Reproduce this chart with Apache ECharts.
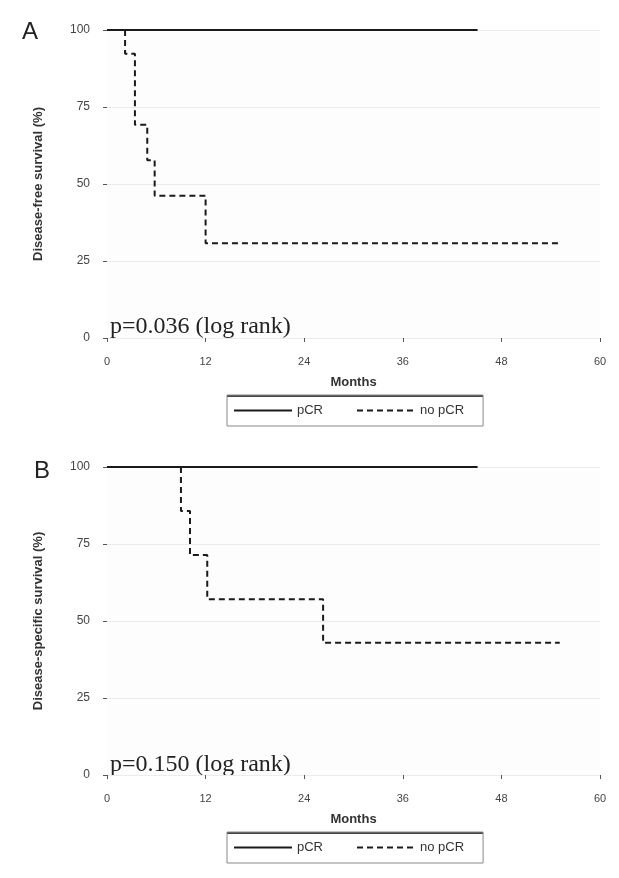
<!DOCTYPE html>
<html>
<head>
<meta charset="utf-8">
<script src="https://cdn.jsdelivr.net/npm/echarts@6/dist/echarts.min.js"></script>
<style>
html,body{margin:0;padding:0;background:#fff;}
#c{width:619px;height:878px;}
</style>
</head>
<body>
<div id="c"></div>
<script>
// ---- Data ----
const xTicks = [0, 12, 24, 36, 48, 60];
const yTicks = [0, 25, 50, 75, 100];
const seriesNames = ['pCR', 'no pCR'];

// Panel A: Disease-free survival
const dfsPcrTime = [0, 45.1];
const dfsPcrSurv = [100, 100];
const dfsNoTime = [2.2, 2.2, 3.4, 4.9, 5.8, 12.0, 55.1];
const dfsNoSurv = [100, 92.3, 69.2, 57.7, 46.2, 30.8, 30.8];

// Panel B: Disease-specific survival
const dssPcrTime = [0, 45.1];
const dssPcrSurv = [100, 100];
const dssNoTime = [9.0, 9.0, 10.1, 12.2, 26.3, 55.1];
const dssNoSurv = [100, 85.7, 71.4, 57.1, 42.9, 42.9];

const pTextA = 'p=0.036 (log rank)';
const pTextB = 'p=0.150 (log rank)';
const yTitleA = 'Disease-free survival (%)';
const yTitleB = 'Disease-specific survival (%)';
const xTitle = 'Months';

function pairs(t, s) { return t.map((v, i) => [v, s[i]]); }

// ---- Chart ----
const chart = echarts.init(document.getElementById('c'), null, {renderer: 'canvas'});

const tickColor = '#555';
const sans = 'Liberation Sans, Arial, sans-serif';

function xAxisFor(gi) {
  return {
    gridIndex: gi, type: 'value', min: 0, max: 60, interval: 12, offset: 8,
    name: xTitle, nameLocation: 'middle', nameGap: 30,
    nameTextStyle: {color: '#333', fontSize: 13, fontWeight: 'bold', fontFamily: sans},
    axisLine: {show: true, lineStyle: {color: '#ececec', width: 1}},
    axisTick: {show: true, length: 4, lineStyle: {color: tickColor, width: 1}},
    axisLabel: {margin: 10, color: '#444', fontSize: 11, fontFamily: sans,
      formatter: v => xTicks.includes(v) ? String(v) : ''},
    splitLine: {show: false}
  };
}
function yAxisFor(gi, title) {
  return {
    gridIndex: gi, type: 'value', min: 0, max: 100, interval: 25, offset: 7,
    name: title, nameLocation: 'middle', nameGap: 55, nameRotate: 90,
    nameTextStyle: {color: '#333', fontSize: 13, fontWeight: 'bold', fontFamily: sans},
    axisLine: {show: false},
    axisTick: {show: true, length: 4, lineStyle: {color: tickColor, width: 1}},
    axisLabel: {margin: 10, color: '#444', fontSize: 12, fontFamily: sans,
      formatter: v => yTicks.includes(v) ? String(v) : ''},
    splitLine: {show: true, lineStyle: {color: '#ebebeb', width: 1}}
  };
}
function solid(gi, data) {
  return {name: seriesNames[0], type: 'line', xAxisIndex: gi, yAxisIndex: gi, data: data,
    step: 'end', symbol: 'none', silent: true, z: 3,
    lineStyle: {color: '#1a1a1a', width: 2.2, type: 'solid'}, itemStyle: {color: '#1a1a1a'}};
}
function dashed(gi, data) {
  return {name: seriesNames[1], type: 'line', xAxisIndex: gi, yAxisIndex: gi, data: data,
    step: 'end', symbol: 'none', silent: true, z: 4,
    lineStyle: {color: '#1a1a1a', width: 2, type: [6, 4]}, itemStyle: {color: '#1a1a1a'}};
}
function legendFor(top) {
  return {
    data: seriesNames, left: 227, top: top, orient: 'horizontal',
    itemWidth: 58, itemHeight: 12, itemGap: 33, padding: [9, 19, 9, 6],
    borderColor: '#888', borderWidth: 1, selectedMode: false,
    itemStyle: {opacity: 0},
    textStyle: {color: '#333', fontSize: 13, fontFamily: sans}
  };
}
const serifStyle = {fill: '#222', font: '24px "Liberation Serif", "DejaVu Serif", serif'};

chart.setOption({
  animation: false,
  backgroundColor: '#ffffff',
  grid: [
    {left: 107, top: 30, width: 493, height: 308, backgroundColor: '#fdfdfd', show: true, borderWidth: 0},
    {left: 107, top: 467, width: 493, height: 308, backgroundColor: '#fdfdfd', show: true, borderWidth: 0}
  ],
  xAxis: [xAxisFor(0), xAxisFor(1)],
  yAxis: [yAxisFor(0, yTitleA), yAxisFor(1, yTitleB)],
  legend: [legendFor(395), legendFor(832)],
  series: [
    solid(0, pairs(dfsPcrTime, dfsPcrSurv)),
    dashed(0, pairs(dfsNoTime, dfsNoSurv)),
    solid(1, pairs(dssPcrTime, dssPcrSurv)),
    dashed(1, pairs(dssNoTime, dssNoSurv))
  ],
  graphic: [
    {type: 'text', left: 22, top: 20, style: {text: 'A', fill: '#222', font: '24px "Liberation Sans", Arial, sans-serif'}},
    {type: 'text', left: 34, top: 459, style: {text: 'B', fill: '#222', font: '24px "Liberation Sans", Arial, sans-serif'}},
    {type: 'text', left: 110, top: 315, style: Object.assign({text: pTextA}, serifStyle)},
    {type: 'text', left: 110, top: 753, style: Object.assign({text: pTextB}, serifStyle)},
    {type: 'rect', left: 227, top: 395, shape: {width: 256, height: 2}, style: {fill: '#444'}},
    {type: 'rect', left: 227, top: 832, shape: {width: 256, height: 2}, style: {fill: '#444'}}
  ]
});
</script>
</body>
</html>
